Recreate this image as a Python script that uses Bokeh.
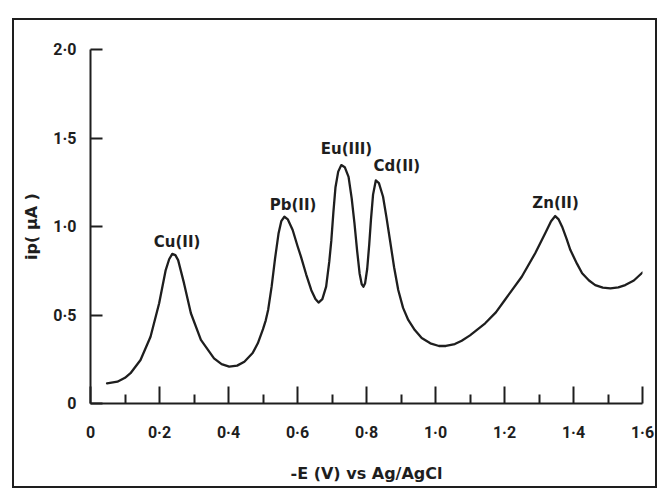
from bokeh.plotting import figure
from bokeh.models import FixedTicker, Range1d, ColumnDataSource
from bokeh.core.properties import value
from bokeh.embed import file_html
from bokeh.resources import INLINE

# ---- data ----
potential = [0.048, 0.078, 0.100, 0.116, 0.145, 0.174, 0.199, 0.218, 0.228, 0.237,
             0.246, 0.254, 0.271, 0.291, 0.320, 0.358, 0.380, 0.402, 0.425, 0.446,
             0.470, 0.485, 0.500, 0.508, 0.515, 0.525, 0.535, 0.545, 0.553, 0.562,
             0.572, 0.586, 0.600, 0.610, 0.625, 0.640, 0.652, 0.661, 0.672, 0.683,
             0.692, 0.698, 0.704, 0.710, 0.718, 0.727, 0.737, 0.748, 0.757, 0.765,
             0.773, 0.780, 0.786, 0.791, 0.796, 0.802, 0.808, 0.813, 0.819, 0.827,
             0.836, 0.848, 0.858, 0.868, 0.880, 0.892, 0.906, 0.921, 0.940, 0.960,
             0.985, 1.010, 1.030, 1.056, 1.076, 1.100, 1.144, 1.175, 1.201, 1.250,
             1.289, 1.318, 1.335, 1.347, 1.357, 1.367, 1.380, 1.391, 1.410, 1.425,
             1.445, 1.463, 1.485, 1.507, 1.530, 1.550, 1.575, 1.600]
current = [0.114, 0.123, 0.145, 0.171, 0.246, 0.377, 0.566, 0.754, 0.815, 0.845,
           0.838, 0.810, 0.680, 0.510, 0.359, 0.255, 0.222, 0.208, 0.214, 0.236,
           0.285, 0.340, 0.420, 0.470, 0.530, 0.660, 0.820, 0.960, 1.030, 1.055,
           1.040, 0.980, 0.890, 0.830, 0.730, 0.640, 0.590, 0.570, 0.590, 0.660,
           0.800, 0.920, 1.080, 1.220, 1.310, 1.347, 1.335, 1.280, 1.160, 1.020,
           0.860, 0.735, 0.675, 0.660, 0.680, 0.760, 0.900, 1.040, 1.180, 1.260,
           1.245, 1.168, 1.050, 0.924, 0.770, 0.641, 0.540, 0.472, 0.415, 0.370,
           0.340, 0.325, 0.325, 0.336, 0.355, 0.385, 0.453, 0.515, 0.585, 0.716,
           0.849, 0.962, 1.030, 1.059, 1.040, 0.999, 0.930, 0.867, 0.790, 0.736,
           0.695, 0.669, 0.655, 0.651, 0.656, 0.669, 0.695, 0.740]

peak_labels = ["Cu(II)", "Pb(II)", "Eu(III)", "Cd(II)", "Zn(II)"]
label_e = [0.251, 0.587, 0.742, 0.888, 1.348]
label_ip = [0.912, 1.123, 1.438, 1.342, 1.133]

x_ticks = [0, 0.2, 0.4, 0.6, 0.8, 1.0, 1.2, 1.4, 1.6]
x_tick_labels = ["0", "0·2", "0·4", "0·6", "0·8", "1·0", "1·2", "1·4", "1·6"]
x_minor_ticks = [0.1, 0.3, 0.5, 0.7, 0.9, 1.1, 1.3, 1.5]
y_ticks = [0, 0.5, 1.0, 1.5, 2.0]
y_tick_labels = ["0", "0·5", "1·0", "1·5", "2·0"]

x_title = "-E (V) vs Ag/AgCl"
y_title = "ip( μA )"

INK = "#1e1e1e"
TICK_FONT = "Roboto"
TEXT_FONT = "DejaVu Sans"

p = figure(width=645, height=470, output_backend="svg", toolbar_location=None,
           x_range=Range1d(0, 1.6), y_range=Range1d(0, 2.0),
           min_border_left=76, min_border_right=17,
           min_border_top=29, min_border_bottom=87)
# the scanned page frame around the whole chart
p.styles = {"margin-left": "12px", "margin-top": "18px",
            "border": "2px solid #1e1e1e"}
p.outline_line_color = None
p.xgrid.visible = False
p.ygrid.visible = False
p.background_fill_color = "white"
p.border_fill_color = "white"

src = ColumnDataSource(dict(e=potential, ip=current))
p.line("e", "ip", source=src, line_color=INK, line_width=2.3, line_join="round",
       line_cap="round")

lsrc = ColumnDataSource(dict(e=label_e, ip=label_ip, t=peak_labels))
p.text("e", "ip", text="t", source=lsrc, text_align="center", text_baseline="middle",
       text_font=value(TEXT_FONT), text_font_style="bold", text_font_size="15px",
       text_color=INK)

# x axis
xa = p.xaxis[0]
xa.ticker = FixedTicker(ticks=x_ticks, minor_ticks=x_minor_ticks)
xa.major_label_overrides = {t: l for t, l in zip(x_ticks, x_tick_labels)}
xa.major_tick_in = 17
xa.major_tick_out = 0
xa.minor_tick_in = 9
xa.minor_tick_out = 0
xa.axis_line_width = 2
xa.major_tick_line_width = 2
xa.minor_tick_line_width = 2
xa.axis_line_color = INK
xa.major_tick_line_color = INK
xa.minor_tick_line_color = INK
xa.major_label_standoff = 19
xa.major_label_text_font = TICK_FONT
xa.major_label_text_font_style = "bold"
xa.major_label_text_font_size = "16px"
xa.major_label_text_color = INK
xa.axis_label = x_title
xa.axis_label_standoff = 19
xa.axis_label_text_font = TEXT_FONT
xa.axis_label_text_font_style = "bold"
xa.axis_label_text_font_size = "16px"
xa.axis_label_text_color = INK

# y axis
ya = p.yaxis[0]
ya.ticker = FixedTicker(ticks=y_ticks, minor_ticks=[])
ya.major_label_overrides = {t: l for t, l in zip(y_ticks, y_tick_labels)}
ya.major_tick_in = 12
ya.major_tick_out = 0
ya.axis_line_width = 2
ya.major_tick_line_width = 2
ya.axis_line_color = INK
ya.major_tick_line_color = INK
ya.major_label_standoff = 14
ya.major_label_text_font = TICK_FONT
ya.major_label_text_font_style = "bold"
ya.major_label_text_font_size = "16px"
ya.major_label_text_color = INK
ya.axis_label = y_title
ya.axis_label_standoff = 9
ya.axis_label_text_font = TEXT_FONT
ya.axis_label_text_font_style = "bold"
ya.axis_label_text_font_size = "16px"
ya.axis_label_text_color = INK

open("out.html", "w").write(file_html(p, INLINE))
